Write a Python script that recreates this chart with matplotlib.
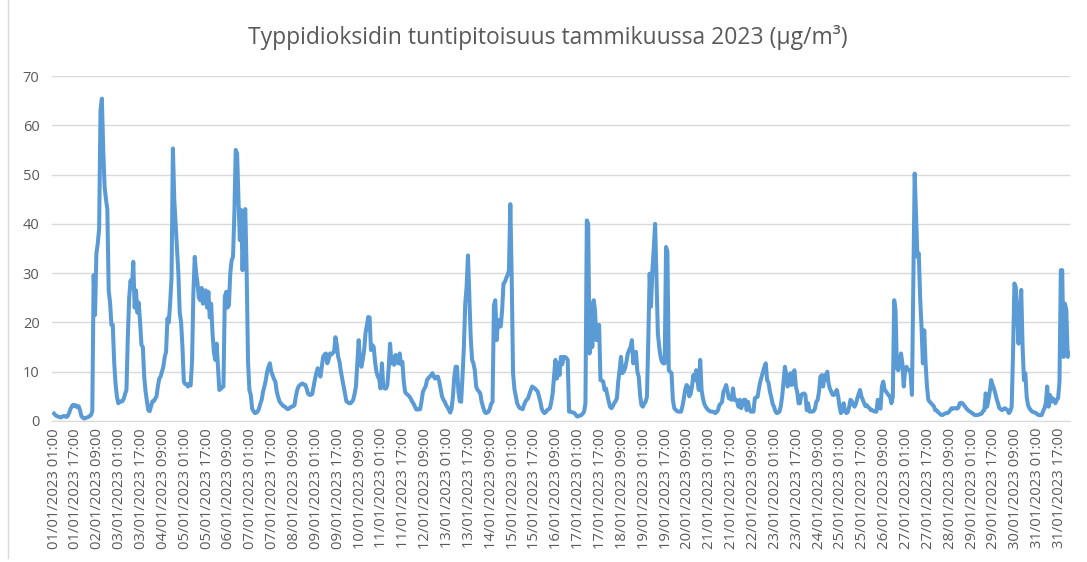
import matplotlib
matplotlib.use("Agg")
import matplotlib.pyplot as plt
from matplotlib.lines import Line2D
import pandas as pd

# Hourly NO2 values (µg/m³), one list per day of January 2023 (hours 01:00 .. 24:00)
d01 = [1.5, 1.2, 1.0, 0.9, 0.8, 0.7, 0.9, 1.0, 1.0, 0.8, 1.0, 1.6, 2.4, 3.0, 3.3, 3.0, 3.2, 2.8, 3.0, 2.2, 1.0, 0.7, 0.5, 0.6]
d02 = [0.7, 0.8, 1.0, 1.2, 2.0, 29.6, 21.5, 34, 36, 39, 63, 65.4, 55, 47.5, 45, 43, 26.5, 24, 19.5, 19.5, 12, 7.6, 5, 3.6]
d03 = [3.8, 4, 4, 4.5, 5.5, 6.3, 17, 25, 28.5, 27, 32.3, 23, 26.5, 22, 24, 20, 15.4, 15, 9, 6, 4, 2.2, 2, 3]
d04 = [4, 4, 4.5, 5, 7, 8.6, 9, 10, 11, 13, 14, 20.8, 20, 24, 29, 55.3, 45, 40, 35, 30, 22, 20, 15, 8]
d05 = [7.5, 7.5, 7.0, 7.5, 7.2, 12, 26, 33.3, 30, 28, 25, 24.5, 27, 23.8, 25, 26.5, 23, 26.2, 21, 23.8, 17.8, 14, 12.4, 15.7]
d06 = [11, 6.3, 6.5, 6.8, 7, 25.2, 26.2, 23, 23.5, 30, 32.6, 33.3, 42, 55, 54.3, 45, 36.7, 42.8, 30.6, 42, 43, 30, 12, 6.3]
d07 = [5.3, 2.5, 2.0, 1.6, 1.7, 1.9, 2.5, 3.5, 4.3, 6, 7, 8.3, 10, 11, 11.7, 10, 9.3, 8.5, 8, 6, 4.9, 4, 3.6, 3.3]
d08 = [3, 2.9, 2.6, 2.4, 2.5, 2.8, 2.9, 3, 3.2, 5, 6.3, 7, 7.3, 7.5, 7.6, 7.4, 7.3, 6.5, 5.5, 5.3, 5.3, 5.5, 7, 8.5]
d09 = [9.7, 10.7, 10, 9, 11, 13, 13.5, 13.7, 11.7, 12.5, 13.7, 13.5, 13.8, 14, 17, 15.5, 13, 12, 10, 8.5, 7, 5.6, 4, 3.8]
d10 = [3.6, 3.6, 3.9, 4.3, 5.5, 7, 11.7, 16.4, 12, 11, 12.5, 14.4, 17.8, 19.5, 21.1, 21, 14.4, 15.4, 15, 12, 10, 9, 8.6, 6.6]
d11 = [11.7, 7, 6.6, 6.6, 7.3, 11, 15.7, 11.7, 13, 11.4, 13.4, 12.5, 11.7, 13.7, 11.5, 12, 8, 5.9, 5.5, 5.3, 5, 4.6, 4, 3.6]
d12 = [3, 2.4, 2.3, 2.4, 2.4, 4, 5.9, 6.5, 7, 8.3, 8.7, 9, 9.3, 9.7, 9, 8.6, 9, 9, 8, 6.5, 5, 4.3, 3.9, 3.2]
d13 = [2.8, 2.3, 1.7, 2.5, 5, 9, 11, 11, 6, 4, 3.9, 9, 15, 23.8, 27.2, 33.6, 25, 17, 12.4, 11.7, 10.3, 7, 6.3, 6]
d14 = [5.6, 3.9, 2.9, 2, 1.6, 1.7, 1.9, 2.5, 3.5, 3.9, 23.5, 24.5, 16.4, 20.5, 19.2, 19.2, 22.5, 27.9, 28.2, 29, 29.6, 30.6, 44, 29.3]
d15 = [9.7, 6.5, 5, 3.6, 3, 2.6, 2.5, 2.4, 3.2, 3.9, 4.3, 4.6, 5.5, 6.3, 7, 6.8, 6.6, 6.3, 6, 5, 3.9, 2.5, 1.9, 1.6]
d16 = [1.8, 2.2, 2.4, 2.6, 3.9, 5.6, 9, 12.4, 8.6, 11.7, 9.3, 13, 11.5, 13, 13, 12.8, 12.4, 1.9, 1.9, 1.8, 1.7, 1.6, 1.2, 0.9]
d17 = [1.0, 1.1, 1.2, 1.5, 1.9, 3.6, 40.7, 40, 13.7, 23.8, 15, 24.5, 22.5, 16.4, 19.1, 19.5, 8.3, 8.2, 8, 6.3, 6.6, 5.3, 4, 2.9]
d18 = [2.6, 3, 3.6, 4, 4.6, 8, 10.3, 13, 9.7, 10, 10.7, 12, 13.7, 14.4, 15, 16.4, 11.7, 14, 14, 10, 9, 5.3, 3.2, 2.9]
d19 = [3.5, 3.9, 4.9, 16.4, 29.9, 23.2, 30.6, 35, 40, 29.3, 17.8, 15, 13, 12, 11.7, 11.7, 35.3, 34.3, 10.3, 10, 9.7, 4.3, 2.6, 2.3]
d20 = [2, 1.9, 1.9, 1.9, 3, 4.5, 6.3, 7.3, 7, 5, 5.5, 7, 9.3, 8.3, 10.3, 8, 6.3, 12.4, 6.3, 4.6, 3.5, 2.9, 2.5, 2.2]
d21 = [2, 1.9, 1.9, 1.8, 1.6, 1.8, 2.2, 3.2, 3.5, 3.9, 5.9, 6.5, 7.3, 5.9, 4.6, 4.5, 4.3, 6.6, 4.3, 4.4, 4, 2.9, 4.3, 2.6]
d22 = [3.5, 4.3, 4.3, 2.2, 3.9, 2.5, 1.9, 1.9, 1.9, 4.6, 4.8, 4.9, 6.6, 8, 9, 10, 11, 11.7, 8.3, 7.8, 6, 4.9, 3.5, 2.9]
d23 = [2, 1.6, 1.7, 1.9, 3, 5, 8, 11, 9.3, 7, 8, 9.7, 7.3, 9.7, 10.3, 7, 5.9, 3.6, 3.6, 5.3, 5.5, 5.6, 5.3, 2.2]
d24 = [3.6, 1.9, 1.9, 1.9, 2, 2.5, 3.9, 4.3, 6, 9, 9.3, 7, 9.3, 8.3, 10, 7.6, 6.5, 5.9, 5.3, 5.3, 5.8, 6.3, 5, 2.9]
d25 = [1.6, 2, 3.6, 2, 1.6, 1.8, 2.8, 4.3, 4, 3.3, 2.9, 3.5, 4.6, 5.5, 6.3, 5, 4.3, 3.6, 3, 3.2, 2.8, 2.6, 2.2, 2.2]
d26 = [2, 1.9, 1.9, 4.3, 3, 2.5, 7, 8, 6.3, 6, 5.6, 5.2, 4.9, 3.6, 4.9, 24.5, 22.5, 10.7, 10.3, 12, 13.7, 11.7, 7, 10.3]
d27 = [11, 10.5, 10.3, 9.7, 5.3, 28, 50.2, 42, 33.3, 34, 25, 19.1, 11.7, 18.4, 11.7, 7, 4.3, 3.9, 3.6, 3.3, 3, 2.2, 2.2, 1.8]
d28 = [1.6, 1.3, 1.2, 1.3, 1.5, 1.6, 1.6, 1.8, 2.2, 2.6, 2.5, 2.6, 2.6, 2.5, 2.7, 3.6, 3.7, 3.6, 3.2, 2.9, 2.5, 2.2, 2, 1.8]
d29 = [1.6, 1.4, 1.2, 1.2, 1.2, 1.3, 1.4, 1.5, 2, 2.2, 5.6, 2.9, 4.3, 6, 8.3, 7.3, 6.6, 5.6, 4.5, 3.6, 2.6, 2.4, 2.2, 2.4]
d30 = [2.6, 2.4, 2.2, 1.6, 2, 2.9, 13.7, 27.9, 27.2, 21.8, 15.7, 21, 26.6, 15, 8.3, 9.7, 4.9, 3.2, 2.6, 2.2, 1.9, 1.8, 1.7, 1.6]
d31 = [1.3, 1.2, 1.2, 1.2, 2, 2.6, 3.6, 7, 2.9, 5.3, 3.9, 4.6, 4.2, 3.6, 4.3, 4.6, 8, 30.6, 30.6, 13, 23.8, 22.5, 13, 13.7]

days = [d01, d02, d03, d04, d05, d06, d07, d08, d09, d10, d11, d12, d13, d14, d15, d16,
        d17, d18, d19, d20, d21, d22, d23, d24, d25, d26, d27, d28, d29, d30, d31]
bad = [(k + 1, len(d)) for k, d in enumerate(days) if len(d) != 24]
assert not bad, bad
values = [v for d in days for v in d]

times = pd.date_range("2023-01-01 01:00", periods=len(values), freq="h")
tick_positions = list(range(0, len(values), 16))
tick_labels = [times[i].strftime("%d/%m/%Y %H:%M") for i in tick_positions]
y_ticks = [0, 10, 20, 30, 40, 50, 60, 70]
title = "Typpidioksidin tuntipitoisuus tammikuussa 2023 (µg/m³)"

plt.rcParams['font.family'] = ['Open Sans', 'DejaVu Sans']
TXT = '#595959'
GRID = '#D9D9D9'
LINE = '#5B9BD5'

W, H = 1087, 562
fig = plt.figure(figsize=(W / 100, H / 100), dpi=100)
fig.patch.set_facecolor('white')
ax = fig.add_axes([52 / W, 1 - 421 / H, (1070 - 52) / W, (421 - 76) / H])

ax.plot(range(len(values)), values, color=LINE, lw=2.9, solid_joinstyle='round')
ax.set_xlim(-1.5, 743.7)
ax.set_ylim(0, 70)
ax.set_yticks(y_ticks)
ax.set_xticks(tick_positions)
ax.set_xticklabels(tick_labels, rotation=90, fontsize=10.7, color=TXT)
ax.tick_params(axis='y', length=0, pad=9, labelsize=10.5, labelcolor=TXT)
ax.tick_params(axis='x', length=0, pad=5)
ax.grid(axis='y', color=GRID, lw=1)
ax.set_axisbelow(True)
for s in ['top', 'right', 'left']:
    ax.spines[s].set_visible(False)
ax.spines['bottom'].set_color(GRID)

fig.text(548 / W, 1 - 38 / H, title, ha='center', va='center', fontsize=16.5, color=TXT)

# chart-area border (left edge visible in the reference)
fig.add_artist(Line2D([7.5 / W, 7.5 / W], [1 - 558 / H, 1.0], transform=fig.transFigure,
                      color=GRID, lw=1))

fig.savefig('out.png', dpi=100)
